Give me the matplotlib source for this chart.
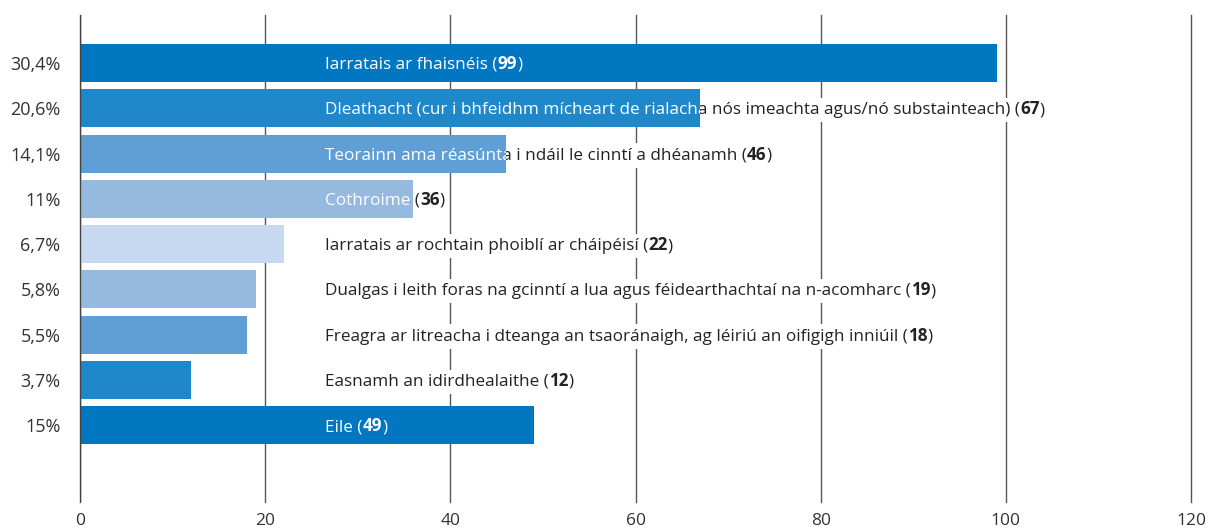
import matplotlib
matplotlib.use("Agg")
import matplotlib.pyplot as plt
from matplotlib.transforms import TransformedBbox

# data
categories = [
    "Iarratais ar fhaisnéis",
    "Dleathacht (cur i bhfeidhm mícheart de rialacha nós imeachta agus/nó substainteach)",
    "Teorainn ama réasúnta i ndáil le cinntí a dhéanamh",
    "Cothroime",
    "Iarratais ar rochtain phoiblí ar cháipéisí",
    "Dualgas i leith foras na gcinntí a lua agus féidearthachtaí na n-acomharc",
    "Freagra ar litreacha i dteanga an tsaoránaigh, ag léiriú an oifigigh inniúil",
    "Easnamh an idirdhealaithe",
    "Eile",
]
values = [99, 67, 46, 36, 22, 19, 18, 12, 49]
percent_labels = ["30,4%", "20,6%", "14,1%", "11%", "6,7%", "5,8%", "5,5%", "3,7%", "15%"]
x_ticks = [0, 20, 40, 60, 80, 100, 120]

# style
bar_colors = ['#0077c0', '#1f88cb', '#5f9fd6', '#96badf', '#c6d9f0',
              '#96badf', '#5f9fd6', '#1f88cb', '#0077c0']
label_x = 26.5
font_size = 12.3
text_color = '#222222'

plt.rcParams['font.family'] = ['Open Sans', 'DejaVu Sans']

fig = plt.figure(figsize=(12.09, 5.29), dpi=100)
ax = fig.add_axes([0.0662, 0.051, 0.9189, 0.9206])

pos = list(range(len(values)))
bars = ax.barh(pos, values, height=0.84, color=bar_colors, zorder=3)

ax.set_xlim(0, 120)
ax.set_ylim(9.7, -1.06)
ax.set_xticks(x_ticks)
ax.set_yticks(pos)
ax.set_yticklabels(percent_labels)
ax.tick_params(length=0, colors='#333333')
ax.tick_params(axis='y', pad=14, labelsize=13)
ax.tick_params(axis='x', pad=8, labelsize=12.5)
for s in ax.spines.values():
    s.set_visible(False)
ax.grid(axis='x', color='#555555', lw=1)
ax.set_axisbelow(True)
for gl in ax.get_xgridlines():
    gl.set_clip_on(False)
ax.axvline(0, color='#444444', lw=1, zorder=5)


def put_label(y, name, value, color, zorder, clip=None, bg=None):
    parts = [(name + ' (', 'normal'), (str(value), 'bold'), (')', 'normal')]
    prev = None
    for txt, weight in parts:
        kw = dict(fontsize=font_size, fontweight=weight, color=color, zorder=zorder, ha='left')
        if bg:
            kw['bbox'] = dict(facecolor=bg, edgecolor='none', pad=3.0)
        if prev is None:
            t = ax.text(label_x, y, txt, va='center_baseline', **kw)
        else:
            t = ax.annotate(txt, xy=(1, 0), xycoords=prev, va='bottom', **kw)
        if clip is not None:
            t.set_clip_on(True)
            t.set_clip_box(clip)
        prev = t


for i, (name, v) in enumerate(zip(categories, values)):
    # white box behind the label (hides the grid), dark text, then bars,
    # then a white copy of the text clipped to the bar
    put_label(i, name, v, 'white', 1.5, bg='white')
    put_label(i, name, v, text_color, 2)
    box = TransformedBbox(bars[i].get_bbox(), ax.transData)
    put_label(i, name, v, 'white', 4, clip=box)

fig.savefig('out.png', dpi=100)
